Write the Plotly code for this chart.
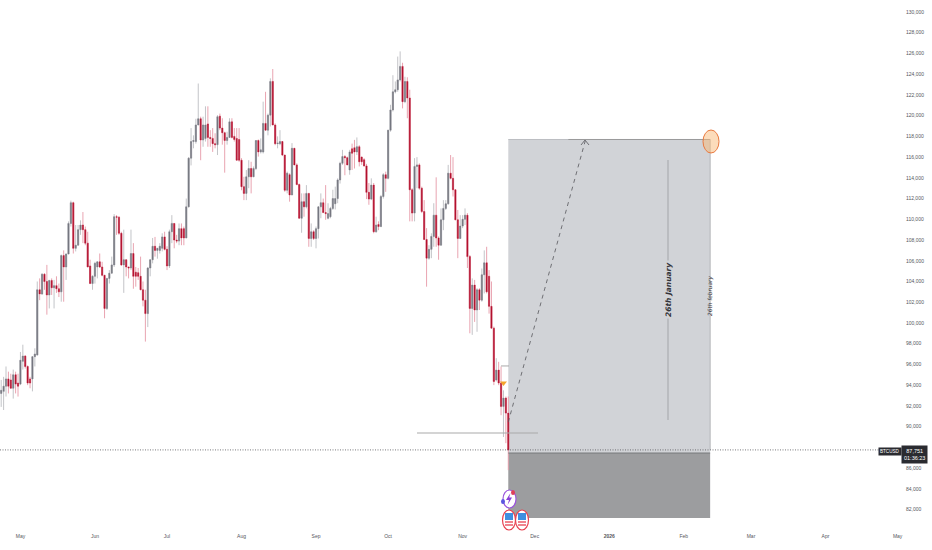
import numpy as np
import pandas as pd
import plotly.graph_objects as go

# daily BTCUSD candles, in thousands of dollars
open_k = [93.2,93.4,93.9,94.6,94.5,93.7,95.0,94.2,94.1,96.3,96.8,95.8,94.6,94.6,96.75,96.9,103.2,102.8,104.7,104.0,
    102.7,104.1,103.4,103.6,103.3,103.0,106.5,105.4,106.65,109.6,111.6,107.2,107.5,109.0,109.45,109.0,107.7,105.5,103.8,104.5,
    105.4,105.9,105.4,104.6,101.4,104.3,104.8,105.6,110.25,110.2,108.65,105.6,106.1,105.4,105.3,106.7,104.9,104.85,104.5,103.2,
    102.2,100.9,105.3,106.1,107.4,107.0,107.0,107.2,108.3,107.1,105.5,108.8,109.6,108.0,107.9,109.1,109.1,108.2,111.2,115.9,
    117.5,117.5,119.1,119.7,117.65,117.8,119.2,117.9,117.8,117.3,117.2,119.95,118.8,118.35,117.6,117.9,119.4,118.0,117.8,117.7,
    115.7,113.15,112.5,114.1,114.9,114.1,114.9,117.6,116.5,116.5,119.25,118.6,120.05,123.3,119.1,117.3,117.3,117.5,116.2,112.8,
    114.3,112.35,116.85,115.25,113.35,110.1,111.7,111.2,112.5,108.15,108.8,108.15,109.1,111.2,111.6,110.65,110.1,110.25,111.05,111.5,
    112.0,113.8,115.4,116.05,115.95,114.76,116.8,116.9,116.5,117.0,116.0,115.75,115.15,112.6,111.95,113.3,108.8,109.5,109.3,112.2,
    114.3,113.95,118.6,120.55,122.3,122.5,123.45,124.75,121.35,123.3,121.7,112.85,110.6,115.1,115.25,113.0,110.75,108.05,106.25,107.1,
    108.35,110.4,108.2,107.5,109.95,111.05,111.5,114.45,113.95,112.85,109.95,108.15,109.35,110.0,110.4,106.4,101.4,103.65,101.25,103.2,
    102.2,104.65,105.8,104.5,101.6,99.5,94.5,95.45,94.2,91.95,92.75,91.3]
high_k = [94.5,94.8,95.8,95.3,95.1,95.5,95.3,95.1,97.2,97.9,96.9,95.9,94.8,96.75,97.55,104.0,104.3,104.8,104.8,105.6,
    104.15,104.3,104.15,104.5,103.8,106.6,107.0,106.7,109.8,111.8,111.7,109.45,109.45,109.9,110.7,109.3,108.8,106.1,104.6,105.9,
    105.9,106.7,105.9,104.6,104.3,105.1,106.4,110.5,110.4,110.3,108.8,109.0,106.1,105.4,109.0,107.7,105.4,105.3,106.4,104.0,
    103.2,105.4,106.1,108.2,108.3,107.2,107.7,108.65,108.8,107.4,109.0,110.4,109.6,108.5,109.6,109.6,109.3,112.0,116.0,118.8,
    118.1,119.7,123.1,119.9,119.9,120.9,120.9,118.6,118.8,118.3,120.05,120.2,119.75,118.45,118.45,119.75,119.75,118.8,118.8,118.8,
    115.9,114.1,114.75,115.7,115.55,115.1,117.65,117.7,117.8,121.35,122.3,120.2,123.6,124.5,119.25,118.0,118.6,117.5,116.2,114.6,
    114.45,117.35,116.85,115.4,113.45,112.5,112.5,113.3,112.5,109.6,108.95,109.3,111.05,112.5,112.0,113.3,111.55,111.2,112.85,113.15,
    113.95,115.55,116.7,116.2,116.05,116.7,117.3,117.66,117.9,117.15,116.05,115.9,115.35,113.5,113.95,113.5,110.25,109.8,112.35,114.45,
    114.6,118.6,121.05,123.9,123.3,125.7,126.2,125.1,123.75,123.7,122.5,113.0,115.9,116.0,115.4,113.15,111.85,109.15,107.5,108.65,
    111.55,114.05,108.35,111.05,111.85,111.85,115.25,116.2,116.0,112.85,110.9,110.4,110.4,111.05,110.6,106.55,104.3,104.15,103.35,103.35,
    105.25,107.0,107.35,105.1,104.0,99.65,96.6,96.25,95.8,93.5,92.9,92.9]
low_k = [91.9,91.6,92.9,93.2,93.7,92.7,93.2,92.9,94.0,95.5,95.6,94.0,93.7,93.4,95.8,96.9,102.2,102.7,103.2,100.8,
    101.4,102.7,101.4,102.9,102.5,102.05,102.05,104.15,106.9,109.3,106.7,106.9,107.5,108.5,107.7,107.5,105.4,103.8,103.2,103.8,
    104.3,105.3,104.5,100.45,101.25,103.8,104.8,105.4,108.5,108.5,105.5,102.9,104.5,104.3,105.1,103.3,103.5,104.15,103.2,101.6,
    98.2,99.6,104.5,105.75,106.4,106.2,106.7,106.9,107.0,105.1,105.3,107.7,107.2,107.7,107.5,107.5,107.5,108.2,111.15,115.2,
    116.85,117.3,119.1,115.7,117.0,117.5,117.0,117.0,116.5,116.85,116.2,118.6,117.2,114.5,117.2,118.0,117.8,117.5,115.7,115.55,
    112.8,111.85,111.85,113.0,112.5,114.1,114.75,116.05,116.35,116.35,118.6,118.1,118.95,119.1,117.15,116.85,117.15,116.1,112.65,112.5,
    111.7,112.35,115.25,113.3,110.1,108.7,110.25,111.05,107.35,107.35,108.0,107.2,108.15,110.1,110.6,109.95,110.0,110.1,110.9,110.95,
    111.55,113.45,115.25,114.25,115.25,114.3,114.76,114.9,116.2,115.1,115.25,115.1,111.95,111.4,111.85,108.65,108.7,108.95,109.25,112.0,
    112.65,113.85,118.45,120.4,122.15,122.3,123.3,120.7,121.2,119.75,109.8,109.8,109.8,113.0,112.85,110.6,108.0,103.5,106.1,106.25,
    107.35,107.35,106.1,107.5,108.95,110.9,111.4,113.85,112.2,109.95,106.25,108.15,109.15,109.45,105.3,99.0,98.85,100.1,99.15,101.25,
    102.05,102.85,102.85,100.9,99.5,94.0,94.35,94.0,91.1,89.0,88.4,85.8]
close_k = [93.5,93.9,94.6,93.9,93.7,95.0,94.1,93.9,96.4,96.8,95.8,94.2,94.2,96.75,97.0,103.2,102.8,104.7,104.0,102.7,
    104.1,103.4,103.6,103.3,103.0,106.5,105.4,106.65,109.6,111.6,107.2,107.5,109.0,109.45,109.0,107.7,105.4,103.8,104.5,105.75,
    105.9,105.4,104.6,101.4,104.3,104.8,105.6,110.25,110.2,108.65,105.6,106.1,105.4,105.3,106.7,104.5,104.5,104.5,103.2,102.2,
    100.9,105.3,106.1,107.4,107.0,107.2,107.4,108.3,107.1,105.5,108.8,109.6,108.0,107.9,109.1,108.2,108.2,111.2,115.9,117.5,
    117.6,119.1,119.7,117.65,119.1,119.1,117.9,117.8,117.3,117.2,119.9,118.8,118.35,117.6,117.9,119.4,117.9,117.7,115.7,115.7,
    113.15,112.5,114.1,114.9,114.1,114.9,117.6,116.5,116.7,119.25,118.6,120.05,123.3,119.1,117.3,117.35,117.5,116.2,112.8,114.45,
    112.35,116.85,115.25,113.35,110.1,111.7,111.2,112.5,108.15,108.8,108.15,109.1,111.2,111.6,110.65,110.55,110.55,111.05,112.0,112.0,
    113.8,115.4,116.05,115.95,115.25,116.5,116.37,116.5,117.0,115.55,115.55,115.15,112.6,111.95,113.3,108.8,109.45,109.3,112.2,114.3,
    113.95,118.6,120.55,122.3,122.5,123.45,124.75,121.35,123.3,121.7,112.85,110.6,115.1,115.25,113.0,110.75,108.05,106.25,107.1,108.35,
    110.4,108.2,107.5,109.95,111.05,111.5,114.45,113.95,112.85,109.95,108.15,109.35,110.0,110.4,106.4,101.4,103.65,101.25,103.2,102.2,
    104.65,105.8,103.0,101.6,99.5,94.35,95.45,94.2,91.95,92.75,91.3,87.751]

month_ticks = ["2025-05-01","2025-06-01","2025-07-01","2025-08-01","2025-09-01","2025-10-01","2025-11-01",
    "2025-12-01","2026-01-01","2026-02-01","2026-03-01","2026-04-01","2026-05-01"]
month_labels = ["May","Jun","Jul","Aug","Sep","Oct","Nov","Dec","<b>2026</b>","Feb","Mar","Apr","May"]
# 88,000 sits behind the price tag in the picture
price_ticks = [p for p in range(82000, 130001, 2000) if p != 88000]

last_price = 87751
target_price = 117700
box_split = 87450
box_bottom = 81180
box_start = "2025-11-20"
box_end = "2026-02-12"

dates = pd.date_range(end="2025-11-20", periods=len(close_k), freq="D")
o = np.array(open_k) * 1000
h = np.array(high_k) * 1000
l = np.array(low_k) * 1000
c = np.array(close_k) * 1000

GRAY = "#767880"
RED = "#b3122f"
FONT = "Liberation Sans"
TAG = "#2a2b30"

fig = go.Figure()

# wicks underneath in a paler colour, bodies on top
fig.add_trace(go.Candlestick(x=dates, open=o, high=h, low=l, close=c, whiskerwidth=0,
    increasing=dict(line=dict(color="#bcbdc2", width=0.9), fillcolor="#bcbdc2"),
    decreasing=dict(line=dict(color="#e79aa8", width=0.9), fillcolor="#e79aa8")))
fig.add_trace(go.Candlestick(x=dates, open=o, close=c,
    high=np.maximum(o, c), low=np.minimum(o, c), whiskerwidth=0,
    increasing=dict(line=dict(color=GRAY, width=0.3), fillcolor=GRAY),
    decreasing=dict(line=dict(color=RED, width=0.3), fillcolor=RED)))

fig.add_trace(go.Scatter(x=["2025-11-18"], y=[94200], mode="markers",
    marker=dict(symbol="triangle-down", size=6, color="#f4a52c")))


def px_x(p):
    return p / 900


def px_y(p):
    return 1 - p / 525


def poly(points):
    return "M " + " L ".join(f"{px_x(a)} {px_y(b)}" for a, b in points)


shapes = [
    dict(type="rect", xref="x", yref="y", x0=box_start, x1=box_end, y0=box_split, y1=target_price,
         fillcolor="#d1d3d7", line_width=0, layer="below"),
    dict(type="rect", xref="x", yref="y", x0=box_start, x1=box_end, y0=box_bottom, y1=box_split,
         fillcolor="#9c9d9f", line_width=0, layer="below"),
    dict(type="line", xref="x", yref="y", x0=box_start, x1=box_end, y0=target_price, y1=target_price,
         line=dict(color="#bcbec2", width=1)),
    dict(type="line", xref="x", yref="y", x0="2025-12-15", x1=box_end, y0=target_price, y1=target_price,
         line=dict(color="#9a9a9a", width=1)),
    dict(type="line", xref="x", yref="y", x0=box_end, x1=box_end, y0=last_price, y1=target_price,
         line=dict(color="#b4b6ba", width=1)),
    dict(type="line", xref="x", yref="y", x0=box_start, x1=box_end, y0=box_split, y1=box_split,
         line=dict(color="#77787a", width=1)),
    # dashed projection
    dict(type="line", xref="x", yref="y", x0=box_start, x1="2025-12-22", y0=90440, y1=117550,
         line=dict(color="#55565a", width=0.8, dash="4px,4px")),
    dict(type="path", xref="paper", yref="paper", path=poly([(581, 145), (585, 140), (589, 145)]),
         line=dict(color="#55565a", width=0.8)),
    # time marker
    dict(type="line", xref="paper", yref="paper", x0=px_x(668), x1=px_x(668), y0=px_y(160), y1=px_y(420),
         line=dict(color="#a3a5a9", width=1)),
    # levels
    dict(type="line", xref="paper", yref="y", x0=px_x(417), x1=px_x(538), y0=89380, y1=89380,
         line=dict(color="#a9a9a9", width=1.2)),
    dict(type="line", xref="paper", yref="y", x0=px_x(501), x1=px_x(509), y0=95850, y1=95850,
         line=dict(color="#a9a9a9", width=1)),
    dict(type="line", xref="paper", yref="y", x0=0, x1=px_x(881), y0=last_price, y1=last_price,
         line=dict(color="#55565a", width=0.8, dash="1px,1.5px")),
    # highlight circle
    dict(type="circle", xref="paper", yref="paper", x0=px_x(703), x1=px_x(719), y0=px_y(130), y1=px_y(153),
         fillcolor="rgba(250,185,120,0.5)", line=dict(color="#e9793f", width=1)),
    # lightning badge
    dict(type="circle", xref="paper", yref="paper", x0=px_x(503), x1=px_x(516), y0=px_y(490), y1=px_y(508),
         fillcolor="white", line=dict(color="#9b55dd", width=1.2)),
    dict(type="path", xref="paper", yref="paper",
         path=poly([(510.5, 493), (506, 500), (509, 500), (507.5, 505), (512, 497.5), (509.2, 497.5)]) + " Z",
         fillcolor="#8a3fd8", line_width=0),
    dict(type="circle", xref="paper", yref="paper", x0=px_x(511), x1=px_x(515), y0=px_y(490), y1=px_y(495),
         fillcolor="#e0405a", line_width=0),
    dict(type="circle", xref="paper", yref="paper", x0=px_x(501), x1=px_x(505), y0=px_y(499), y1=px_y(504),
         fillcolor="#5a55e0", line_width=0),
]

# the two flag badges
for cx in [509, 522]:
    shapes.append(dict(type="circle", xref="paper", yref="paper", x0=px_x(cx - 6.5), x1=px_x(cx + 6.5),
        y0=px_y(510), y1=px_y(530), fillcolor="white", line=dict(color="#e8404f", width=1.2)))
    shapes.append(dict(type="rect", xref="paper", yref="paper", x0=px_x(cx - 4), x1=px_x(cx + 4),
        y0=px_y(513), y1=px_y(520), fillcolor="#3f8fe0", line_width=0))
    for sy in [522, 525]:
        shapes.append(dict(type="line", xref="paper", yref="paper", x0=px_x(cx - 4), x1=px_x(cx + 4),
            y0=px_y(sy), y1=px_y(sy), line=dict(color="#e8404f", width=1.3)))

annotations = [
    dict(text="26th January", xref="paper", yref="paper", x=px_x(668), y=px_y(290), textangle=-90, showarrow=False,
         xanchor="center", yanchor="middle",
         font=dict(family="DejaVu Sans", size=7.5, color="#33343a", style="italic", weight="bold"),
         bgcolor="#d1d3d7", borderpad=1),
    dict(text="26th february", xref="paper", yref="paper", x=px_x(710), y=px_y(296), textangle=-90, showarrow=False,
         xanchor="center", yanchor="middle",
         font=dict(family="DejaVu Sans", size=5.8, color="#33343a", style="italic")),
    dict(text="BTCUSD", xref="paper", yref="paper", x=px_x(890), y=px_y(451.5), showarrow=False,
         xanchor="center", yanchor="middle",
         font=dict(family=FONT, size=4.6, color="white"), bgcolor=TAG, borderpad=1),
    dict(text="87,751<br>01:36:23", xref="paper", yref="paper", x=px_x(914), y=px_y(454.5), showarrow=False,
         xanchor="center", yanchor="middle", align="center",
         font=dict(family=FONT, size=5.5, color="white"), bgcolor=TAG, borderpad=2),
]

fig.update_layout(
    width=932, height=550,
    margin=dict(l=0, r=32, t=0, b=25),
    paper_bgcolor="white", plot_bgcolor="white",
    showlegend=False,
    shapes=shapes, annotations=annotations,
    font=dict(family=FONT, size=5, color="#55565c"),
    xaxis=dict(type="date", range=["2025-04-22 12:00", "2026-05-02"], rangeslider=dict(visible=False),
               tickmode="array", tickvals=month_ticks, ticktext=month_labels, tickangle=0,
               showgrid=False, zeroline=False, showline=False, ticks="", ticklabelstandoff=7),
    yaxis=dict(side="right", range=[80506, 131158], tickmode="array", tickvals=price_ticks,
               tickformat=",d", showgrid=False, zeroline=False, showline=False, ticks="", ticklabelstandoff=5),
)

# page has a default body margin, drop it so the chart sits at the window corner
fig.write_html("out.html", config=dict(displayModeBar=False), post_script="document.body.style.margin='0';")
